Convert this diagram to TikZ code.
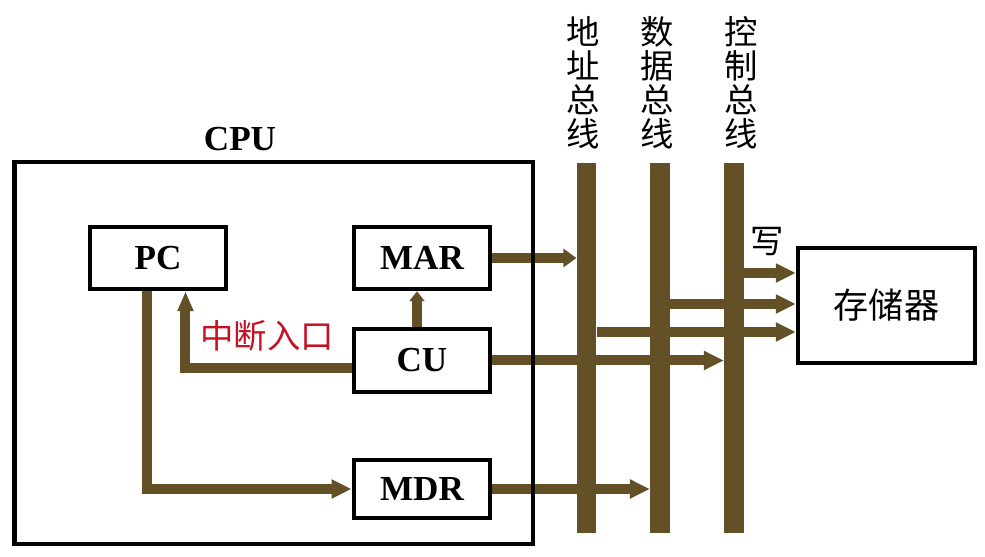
\documentclass[tikz,border=0pt]{standalone}
\usepackage{fontspec}
\setmainfont{Liberation Serif}
\newfontfamily\cjk{Noto Sans CJK SC}
\usetikzlibrary{arrows.meta}
\definecolor{busbrown}{RGB}{99,80,38}
\definecolor{intred}{RGB}{196,18,36}
\pgfdeclarelayer{bg}
\pgfsetlayers{bg,main}

\begin{document}
\begin{tikzpicture}[x=0.02cm,y=-0.02cm,line join=miter,
    reg/.style={draw,line width=0.09cm,fill=white,inner sep=0pt,
      minimum width=2.73cm,minimum height=1.24cm,
      font=\bfseries\fontsize{20}{24}\selectfont},
    bus/.style={fill=busbrown,inner sep=0pt,minimum width=0.39cm,minimum height=7.4cm},
    buslabel/.style={align=center,inner sep=0pt,font=\cjk\fontsize{19}{19.3}\selectfont},
    cjktext/.style={inner sep=0pt,font=\cjk\fontsize{19}{24}\selectfont},
    flow/.style={draw=busbrown,line width=0.2cm,-{Triangle[length=0.4cm,width=0.36cm]}}]

  \useasboundingbox (0,0) rectangle (985,557);

  % ---- CPU: contorno e registri -------------------------------------------
  \draw[line width=0.09cm] (14.5,162) rectangle (533,544);
  \node[inner sep=0pt,font=\bfseries\fontsize{20}{24}\selectfont] (cpulabel) at (240,139) {CPU};

  \node[reg] (pc)  at (158,258) {PC};
  \node[reg] (mar) at (422,258) {MAR};
  \node[reg,minimum height=1.26cm] (cu)  at (422,360.5) {CU};
  \node[reg,minimum height=1.16cm] (mdr) at (422,489) {MDR};

  \node[text=intred,cjktext] (intr) at (267,336) {中断入口};

  % ---- i tre bus, con le scritte in colonna -------------------------------
  \node[bus] (abus) at (586.5,348) {};
  \node[bus] (dbus) at (660,348) {};
  \node[bus] (cbus) at (734,348) {};

  \node[buslabel] (alabel) at (583.5,83) {地\\址\\总\\线};
  \node[buslabel] (dlabel) at (657.5,83) {数\\据\\总\\线};
  \node[buslabel] (clabel) at (741,83) {控\\制\\总\\线};

  % ---- memoria ------------------------------------------------------------
  \node[draw,line width=0.09cm,fill=white,minimum width=3.54cm,minimum height=2.3cm,
        inner sep=0pt,font=\cjk\fontsize{20}{24}\selectfont] (mem) at (886.5,305.5) {存储器};
  \node[cjktext] (write) at (767,242) {写};

  \coordinate (rowc) at (0,273);
  \coordinate (rowd) at (0,304);
  \coordinate (rowa) at (0,332);

  % ---- frecce (sotto i bus) -----------------------------------------------
  \begin{pgfonlayer}{bg}
    \draw[flow,-{Triangle[length=0.26cm,width=0.36cm]}] (mar.east) -- (mar.east -| abus.west);
    \draw[flow] (cu.east) -- (cu.east -| cbus.west);
    \draw[flow] (mdr.east) -- (mdr.east -| dbus.west);

    \draw[flow] (cbus.east |- rowc) -- (mem.west |- rowc);
    \draw[flow] (dbus.east |- rowd) -- (mem.west |- rowd);
    \draw[flow] (abus.east |- rowa) -- (mem.west |- rowa);

    \draw[flow,-{Triangle[length=0.2cm,width=0.3cm]}]
      ([xshift=-0.1cm]cu.north) -- ([xshift=-0.1cm]mar.south);
    \draw[flow,-{Triangle[length=0.4cm,width=0.3cm]}]
      ([yshift=-0.15cm]cu.west) -| ([xshift=0.55cm]pc.south);
    \draw[flow] ([xshift=-0.22cm]pc.south) |- (mdr.west);
  \end{pgfonlayer}

\end{tikzpicture}
\end{document}
